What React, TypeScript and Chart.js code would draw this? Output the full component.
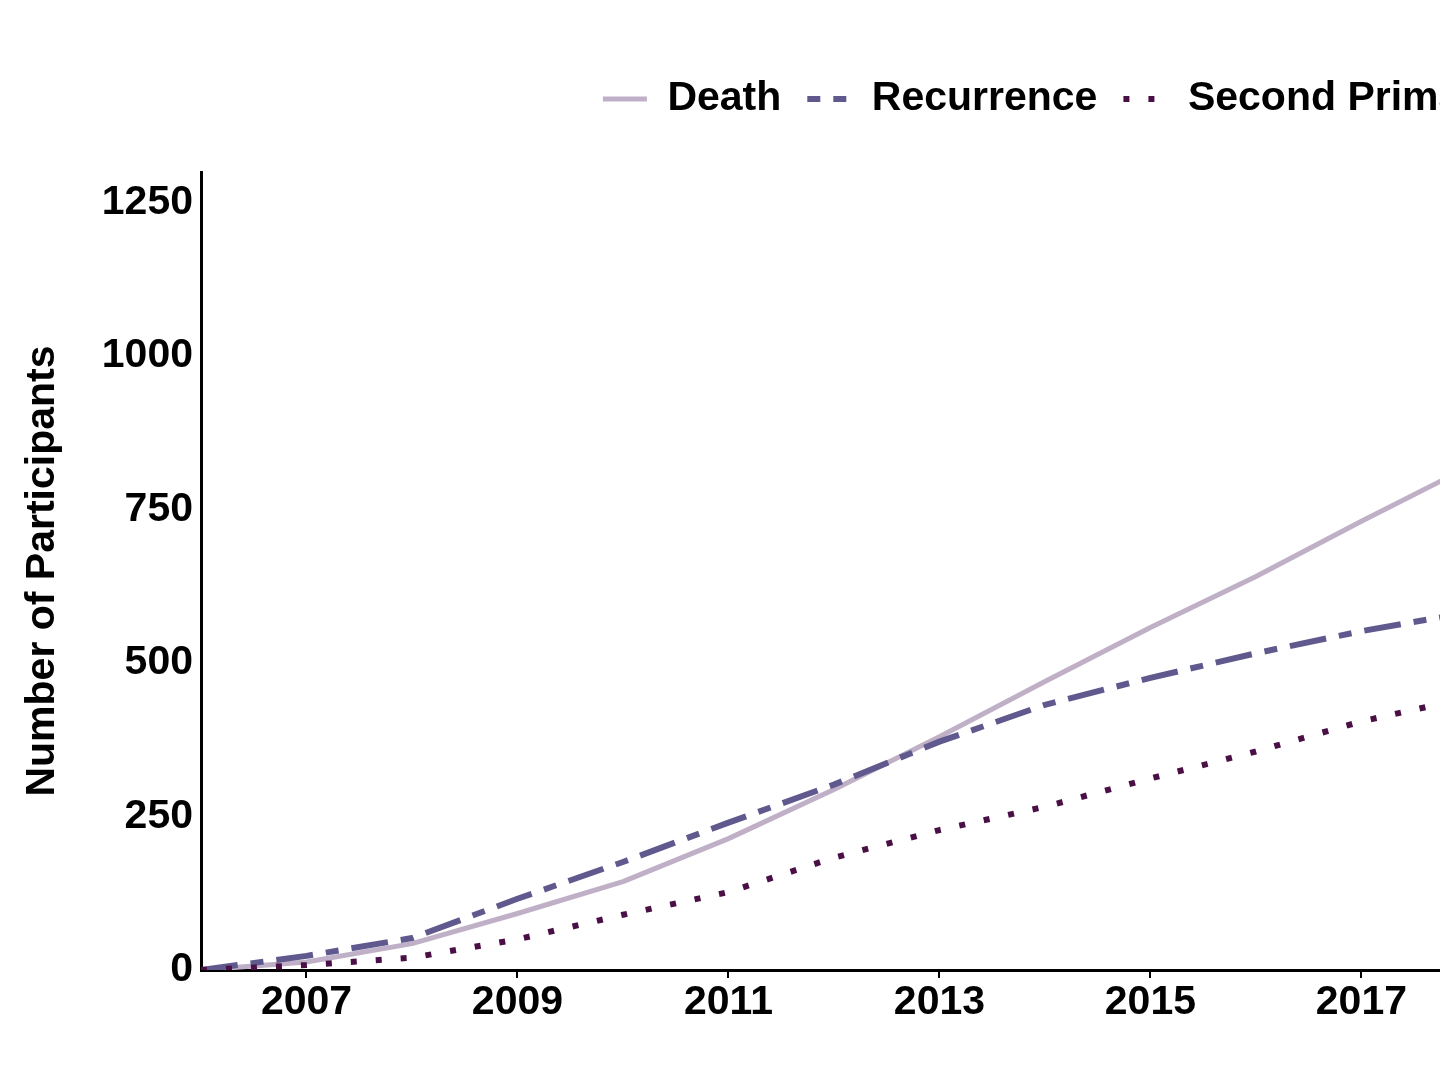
import React, { useEffect, useRef } from 'react';
import { Chart, registerables } from 'chart.js';

Chart.register(...registerables);

// ---- data ----
const years = [2006, 2007, 2008, 2009, 2010, 2011, 2012, 2013, 2014, 2015, 2016, 2017, 2018];
const death = [0, 13, 43, 92, 144, 214, 294, 380, 470, 558, 641, 731, 818];
const recurrence = [0, 23, 52, 116, 176, 240, 302, 372, 432, 476, 516, 552, 582];
const secondPrimary = [0, 8, 20, 50, 90, 127, 183, 228, 266, 312, 356, 405, 443];

const seriesLabels = ['Death', 'Recurrence', 'Second Primary'];
const xTickYears = [2007, 2009, 2011, 2013, 2015, 2017, 2019, 2021, 2023];
const yTickValues = [0, 250, 500, 750, 1000, 1250];

const colors = ['#bfb0c7', '#5f598e', '#4a1046'];
const lineDashes = [[], [37, 13, 13, 13], [6, 19]];
const legendDashes = [[], [13, 13], [6, 19]];
const lineWidths = [5, 6, 6];

export default function App() {
  const ref = useRef<HTMLCanvasElement>(null);

  useEffect(() => {
    const canvas = ref.current;
    if (!canvas) return;
    const font = { family: "'Liberation Sans', Arial, Helvetica, sans-serif", size: 41, weight: 'bold' as const };

    const legendSpacer = {
      id: 'legendSpacer',
      beforeInit(chart: any) {
        const legend = chart.legend;
        if (!legend) return;
        const fit = legend.fit;
        legend.fit = function () {
          fit.call(legend);
          this.height += 42.5;
        };
      },
    };

    const series = [death, recurrence, secondPrimary];
    const chart = new Chart(canvas, {
      type: 'line',
      data: {
        datasets: series.map((vals, i) => ({
          label: seriesLabels[i],
          data: years.map((yr, j) => ({ x: yr, y: vals[j] })),
          borderColor: colors[i],
          backgroundColor: colors[i],
          borderWidth: lineWidths[i],
          borderDash: lineDashes[i],
          borderCapStyle: 'butt' as const,
          borderJoinStyle: 'round' as const,
          pointRadius: 0,
          pointHoverRadius: 0,
          tension: 0,
          fill: false,
          order: 3 - i,
        })),
      },
      options: {
        animation: false,
        responsive: false,
        maintainAspectRatio: false,
        events: [],
        layout: { padding: { top: 52.5, left: 0, right: 0, bottom: 0 } },
        plugins: {
          tooltip: { enabled: false },
          legend: {
            display: true,
            position: 'top',
            align: 'center',
            labels: {
              font,
              color: '#000',
              usePointStyle: true,
              pointStyle: 'line',
              pointStyleWidth: 44,
              padding: 26,
              generateLabels: (ch: any) =>
                ch.data.datasets.map((ds: any, i: number) => ({
                  text: ds.label,
                  fillStyle: 'rgba(0,0,0,0)',
                  strokeStyle: colors[i],
                  lineWidth: lineWidths[i],
                  lineDash: legendDashes[i],
                  lineCap: 'butt',
                  pointStyle: 'line',
                  hidden: false,
                  datasetIndex: i,
                  fontColor: '#000',
                })),
            },
          },
        },
        scales: {
          x: {
            type: 'linear',
            min: 2006,
            max: 2024.03,
            afterBuildTicks: (axis: any) => {
              axis.ticks = xTickYears.map((v) => ({ value: v }));
            },
            afterFit: (s: any) => {
              s.height = 110;
            },
            ticks: {
              font,
              color: '#000',
              padding: 0,
              autoSkip: false,
              maxRotation: 0,
              callback: (v: any) => String(v),
            },
            grid: {
              display: true,
              drawOnChartArea: false,
              drawTicks: true,
              tickLength: 8,
              color: '#000',
              lineWidth: 2,
            },
            border: { display: true, color: '#000', width: 3 },
          },
          y: {
            type: 'linear',
            min: 0,
            max: 1300,
            afterBuildTicks: (axis: any) => {
              axis.ticks = yTickValues.map((v) => ({ value: v }));
            },
            afterFit: (s: any) => {
              s.width = 201;
            },
            ticks: {
              font,
              color: '#000',
              padding: 8,
              callback: (v: any) => String(v),
            },
            grid: { display: false, drawTicks: false },
            border: { display: true, color: '#000', width: 3 },
            title: {
              display: true,
              text: 'Number of Participants',
              font,
              color: '#000',
              padding: { top: 18, bottom: 0 },
            },
          },
        },
      },
      plugins: [legendSpacer],
    } as any);

    return () => chart.destroy();
  }, []);

  return (
    <div
      style={{
        position: 'fixed',
        left: 0,
        top: 0,
        width: 1440,
        height: 1080,
        overflow: 'hidden',
        background: '#fff',
      }}
    >
      <canvas ref={ref} width={2103} height={1080} style={{ display: 'block', width: 2103, height: 1080 }} />
    </div>
  );
}
